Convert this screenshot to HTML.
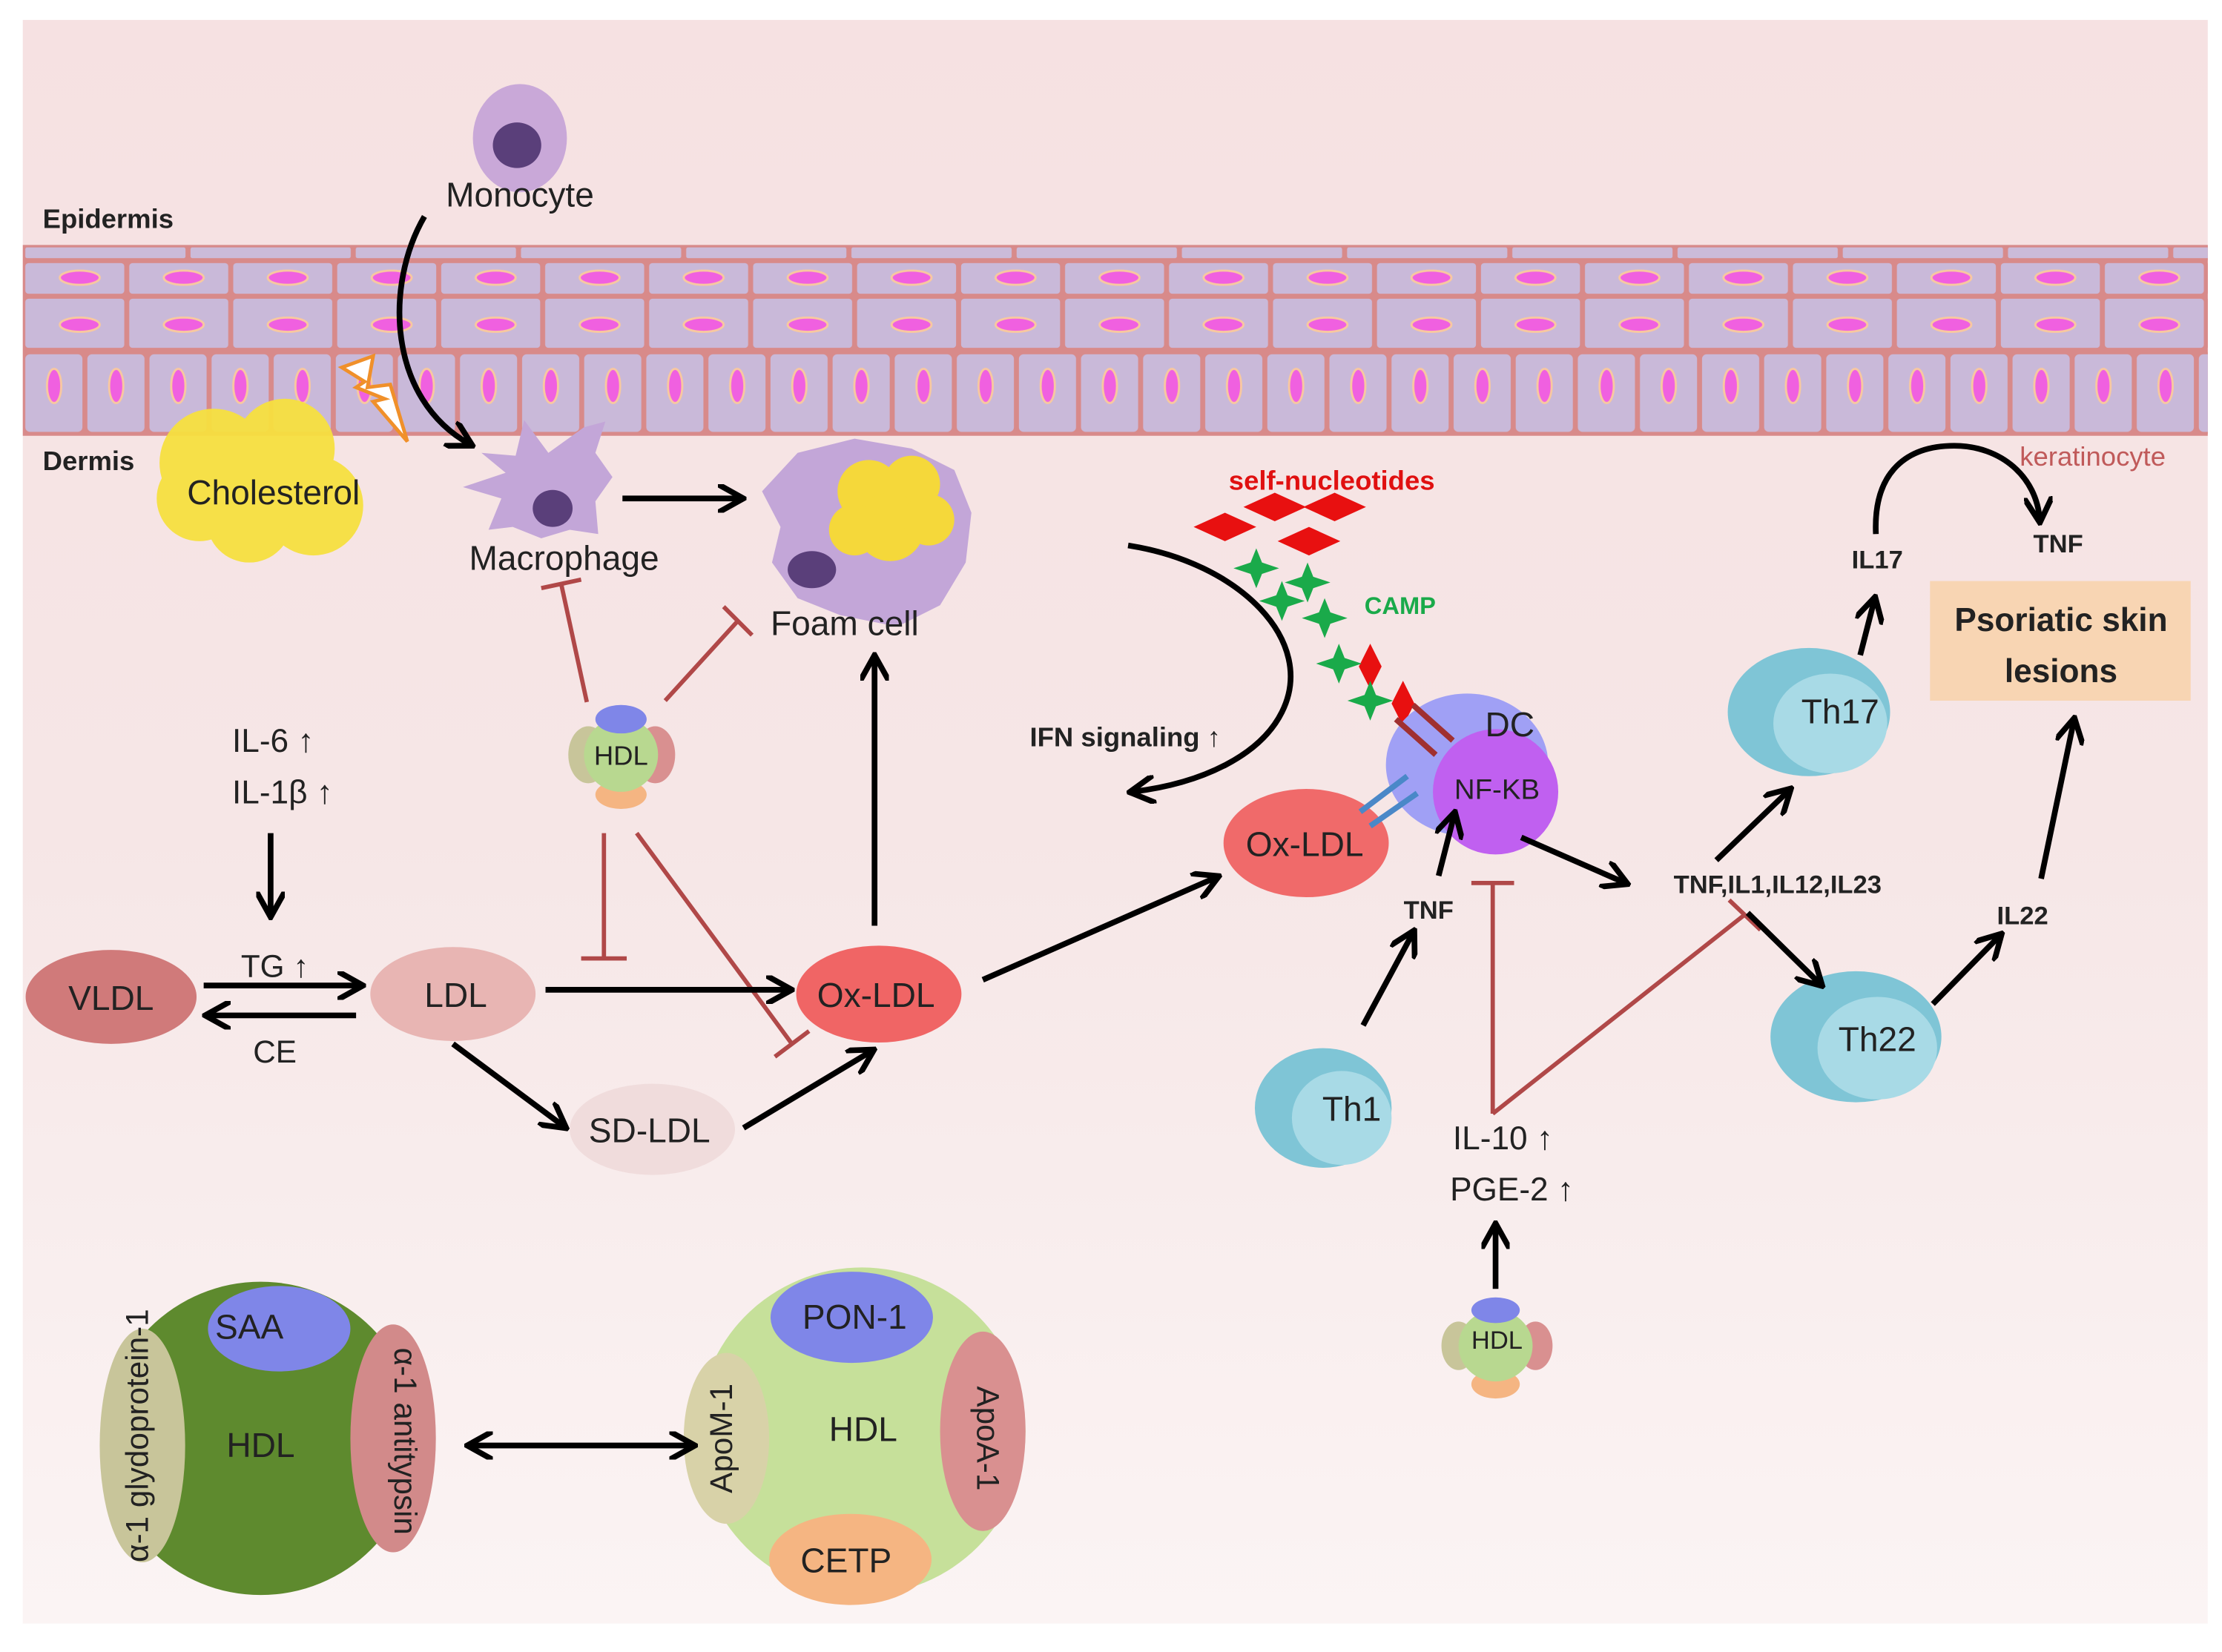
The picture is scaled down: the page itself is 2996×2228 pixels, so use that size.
<!DOCTYPE html>
<html><head><meta charset="utf-8"><style>
html,body{margin:0;padding:0;background:#fff}
svg{display:block}
text{font-family:"Liberation Sans",sans-serif}
</style></head><body>
<svg width="2996" height="2228" viewBox="0 0 1560 1160" preserveAspectRatio="none" xmlns="http://www.w3.org/2000/svg">
<defs>
<linearGradient id="bg" x1="0" y1="0" x2="0" y2="1">
<stop offset="0" stop-color="#f6e1e2"/><stop offset="0.5" stop-color="#f6e6e6"/><stop offset="1" stop-color="#fbf4f4"/>
</linearGradient>
<pattern id="r0" x="16" y="172" width="116" height="11" patternUnits="userSpaceOnUse">
<rect x="1" y="1" width="114" height="9" rx="2" fill="#cbbbd9" stroke="#d88a8a" stroke-width="1.5"/></pattern>
<pattern id="r1" x="16" y="183" width="73" height="25" patternUnits="userSpaceOnUse">
<rect x="1" y="1" width="71" height="23" rx="3" fill="#c9b9d9" stroke="#d88a8a" stroke-width="1.5"/>
<ellipse cx="40" cy="12" rx="14" ry="5" fill="#f060e0" stroke="#f8c8a0" stroke-width="1.5"/></pattern>
<pattern id="r2" x="16" y="208" width="73" height="38" patternUnits="userSpaceOnUse">
<rect x="1" y="1" width="71" height="36" rx="3" fill="#c9b9d9" stroke="#d88a8a" stroke-width="1.5"/>
<ellipse cx="40" cy="20" rx="14" ry="5" fill="#f060e0" stroke="#f8c8a0" stroke-width="1.5"/></pattern>
<pattern id="r3" x="16" y="247" width="43.6" height="58" patternUnits="userSpaceOnUse">
<rect x="1" y="1" width="41.6" height="56" rx="4" fill="#c9b9d9" stroke="#d88a8a" stroke-width="1.5"/>
<ellipse cx="22" cy="24" rx="5" ry="12" fill="#f060e0" stroke="#f8c8a0" stroke-width="1.5"/></pattern>
<marker id="ah" viewBox="0 0 10 10" refX="8" refY="5" markerWidth="5" markerHeight="5" orient="auto-start-reverse" markerUnits="strokeWidth">
<path d="M0,0 L9,5 L0,10" fill="none" stroke="#000" stroke-width="2"/></marker>
</defs>
<rect x="16" y="14" width="1534" height="1126" fill="url(#bg)"/>
<!-- epidermis -->
<rect x="16" y="172" width="1534" height="134" fill="#d88a8a"/>
<rect x="16" y="172" width="1534" height="11" fill="url(#r0)"/>
<rect x="16" y="183" width="1534" height="25" fill="url(#r1)"/>
<rect x="16" y="208" width="1534" height="38" fill="url(#r2)"/>
<rect x="16" y="247" width="1534" height="58" fill="url(#r3)"/>
<text x="30" y="160" font-size="19" font-weight="bold" fill="#222">Epidermis</text>
<text x="30" y="330" font-size="19" font-weight="bold" fill="#222">Dermis</text>
<text x="1418" y="327" font-size="19" fill="#c05a5a">keratinocyte</text>
<!-- monocyte -->
<ellipse cx="365" cy="97" rx="33" ry="38" fill="#c9a8d8"/>
<ellipse cx="363" cy="102" rx="17" ry="16" fill="#5a3f7a"/>
<text x="365" y="145" font-size="24" text-anchor="middle" fill="#222">Monocyte</text>
<!-- lightning -->
<path d="M240,258 L262,250 L258,272 L274,270 L286,310 L262,282 L270,280 L250,272 L256,268 Z" fill="#fff" stroke="#f0902a" stroke-width="2.5"/>
<!-- cholesterol -->
<g fill="#f7e040" opacity="0.95">
<circle cx="150" cy="325" r="38"/><circle cx="200" cy="315" r="35"/><circle cx="220" cy="355" r="35"/><circle cx="175" cy="365" r="30"/><circle cx="140" cy="350" r="30"/><circle cx="185" cy="340" r="35"/></g>
<text x="192" y="354" font-size="24" text-anchor="middle" fill="#222">Cholesterol</text>
<!-- macrophage -->
<path d="M338,318 L362,320 L368,295 L385,318 L410,300 L425,296 L418,318 L430,335 L418,352 L420,375 L400,372 L380,378 L360,370 L343,372 L352,350 L325,342 L355,332 Z" fill="#c3a6d8"/>
<ellipse cx="388" cy="357" rx="14" ry="13" fill="#5a3f7a"/>
<text x="396" y="400" font-size="24" text-anchor="middle" fill="#222">Macrophage</text>
<!-- foam cell -->
<path d="M560,318 L600,308 L640,315 L670,330 L682,360 L678,395 L660,425 L630,440 L590,432 L560,420 L542,395 L548,370 L535,345 Z" fill="#c3a6d8"/>
<g fill="#f5d83a"><circle cx="610" cy="345" r="22"/><circle cx="640" cy="340" r="20"/><circle cx="625" cy="370" r="24"/><circle cx="652" cy="365" r="18"/><circle cx="600" cy="372" r="18"/></g>
<ellipse cx="570" cy="400" rx="17" ry="13" fill="#5a3f7a"/>
<text x="593" y="446" font-size="24" text-anchor="middle" fill="#222">Foam cell</text>
<!-- HDL small 1 -->
<g>
<ellipse cx="413" cy="530" rx="14" ry="20" fill="#c8c59a"/><ellipse cx="460" cy="530" rx="14" ry="20" fill="#d99090"/>
<ellipse cx="436" cy="558" rx="18" ry="10" fill="#f5b582"/><ellipse cx="436" cy="530" rx="26" ry="26" fill="#b8d890"/>
<ellipse cx="436" cy="505" rx="18" ry="10" fill="#7f86e8"/>
<text x="436" y="537" font-size="19" text-anchor="middle" fill="#222">HDL</text></g>
<!-- inhibit lines -->
<g stroke="#b04848" stroke-width="3" fill="none">
<line x1="412" y1="493" x2="394" y2="410"/><line x1="380" y1="413" x2="408" y2="407"/>
<line x1="467" y1="492" x2="518" y2="436"/><line x1="508" y1="426" x2="528" y2="446"/>
<line x1="424" y1="585" x2="424" y2="673"/><line x1="408" y1="673" x2="440" y2="673"/>
<line x1="447" y1="585" x2="556" y2="733"/><line x1="544" y1="742" x2="568" y2="724"/>
<line x1="1048" y1="782" x2="1048" y2="620"/><line x1="1033" y1="620" x2="1063" y2="620"/>
<line x1="1048" y1="782" x2="1224" y2="643"/><line x1="1214" y1="632" x2="1236" y2="653"/>
</g>
<!-- IL-6 -->
<text x="163" y="528" font-size="23" fill="#222">IL-6 ↑</text>
<text x="163" y="564" font-size="23" fill="#222">IL-1β ↑</text>
<!-- lipoproteins -->
<ellipse cx="78" cy="700" rx="60" ry="33" fill="#d07a7a"/><text x="78" y="709" font-size="24" text-anchor="middle" fill="#222">VLDL</text>
<ellipse cx="318" cy="698" rx="58" ry="33" fill="#e8b5b3"/><text x="320" y="707" font-size="24" text-anchor="middle" fill="#222">LDL</text>
<ellipse cx="458" cy="793" rx="58" ry="32" fill="#f0dcdc"/><text x="456" y="802" font-size="24" text-anchor="middle" fill="#222">SD-LDL</text>
<ellipse cx="617" cy="698" rx="58" ry="34" fill="#f06565"/><text x="615" y="707" font-size="24" text-anchor="middle" fill="#222">Ox-LDL</text>
<text x="193" y="686" font-size="22" text-anchor="middle" fill="#222">TG ↑</text>
<text x="193" y="746" font-size="22" text-anchor="middle" fill="#222">CE</text>
<text x="790" y="524" font-size="19" font-weight="bold" fill="#222" text-anchor="middle">IFN signaling ↑</text>
<!-- self nucleotides -->
<text x="935" y="344" font-size="19" font-weight="bold" fill="#e01010" text-anchor="middle">self-nucleotides</text>
<g fill="#e81010">
<path d="M838,370 L860,360 L882,370 L860,380 Z"/><path d="M873,356 L895,346 L917,356 L895,366 Z"/>
<path d="M915,356 L937,346 L959,356 L937,366 Z"/><path d="M897,380 L919,370 L941,380 L919,390 Z"/>
<path d="M962,452 L970,468 L962,484 L954,468 Z"/><path d="M985,478 L993,494 L985,510 L977,494 Z"/></g>
<g fill="#1aaa4a">
<path d="M882,385 L886,395 L898,399 L886,403 L882,413 L878,403 L866,399 L878,395 Z"/>
<path d="M918,395 L922,405 L934,409 L922,413 L918,423 L914,413 L902,409 L914,405 Z"/>
<path d="M930,420 L934,430 L946,434 L934,438 L930,448 L926,438 L914,434 L926,430 Z"/>
<path d="M900,408 L904,418 L916,422 L904,426 L900,436 L896,426 L884,422 L896,418 Z"/>
<path d="M940,452 L944,462 L956,466 L944,470 L940,480 L936,470 L924,466 L936,462 Z"/>
<path d="M962,478 L966,488 L978,492 L966,496 L962,506 L958,496 L946,492 L958,488 Z"/></g>
<text x="983" y="431" font-size="17" font-weight="bold" fill="#1aaa4a" text-anchor="middle">CAMP</text>
<!-- DC -->
<ellipse cx="1030" cy="537" rx="57" ry="50" fill="#a0a0f5"/>
<circle cx="1050" cy="556" r="44" fill="#c060f0"/>
<text x="1060" y="517" font-size="24" text-anchor="middle" fill="#222">DC</text>
<text x="1051" y="561" font-size="20" text-anchor="middle" fill="#222">NF-KB</text>
<g stroke="#a03030" stroke-width="4"><line x1="980" y1="505" x2="1008" y2="530"/><line x1="992" y1="495" x2="1020" y2="520"/></g>
<ellipse cx="917" cy="592" rx="58" ry="38" fill="#f06a6a"/>
<text x="916" y="601" font-size="24" text-anchor="middle" fill="#222">Ox-LDL</text>
<g stroke="#4a88c8" stroke-width="4"><line x1="955" y1="570" x2="988" y2="545"/><line x1="962" y1="580" x2="995" y2="557"/></g>
<text x="1003" y="645" font-size="18" font-weight="bold" text-anchor="middle" fill="#222">TNF</text>
<!-- Th cells -->
<g><ellipse cx="929" cy="778" rx="48" ry="42" fill="#7fc5d6"/><ellipse cx="942" cy="785" rx="35" ry="33" fill="#a8dae6"/><text x="949" y="787" font-size="24" text-anchor="middle" fill="#222">Th1</text></g>
<g><ellipse cx="1270" cy="500" rx="57" ry="45" fill="#7fc5d6"/><ellipse cx="1285" cy="508" rx="40" ry="35" fill="#a8dae6"/><text x="1292" y="508" font-size="24" text-anchor="middle" fill="#222">Th17</text></g>
<g><ellipse cx="1303" cy="728" rx="60" ry="46" fill="#7fc5d6"/><ellipse cx="1318" cy="736" rx="42" ry="36" fill="#a8dae6"/><text x="1318" y="738" font-size="24" text-anchor="middle" fill="#222">Th22</text></g>
<text x="1248" y="627" font-size="18" font-weight="bold" text-anchor="middle" fill="#222">TNF,IL1,IL12,IL23</text>
<text x="1318" y="399" font-size="18" font-weight="bold" text-anchor="middle" fill="#222">IL17</text>
<text x="1445" y="388" font-size="18" font-weight="bold" text-anchor="middle" fill="#222">TNF</text>
<text x="1420" y="649" font-size="18" font-weight="bold" text-anchor="middle" fill="#222">IL22</text>
<rect x="1355" y="408" width="183" height="84" fill="#f8d5b3"/>
<text x="1447" y="443" font-size="23" font-weight="bold" text-anchor="middle" fill="#222">Psoriatic skin</text>
<text x="1447" y="479" font-size="23" font-weight="bold" text-anchor="middle" fill="#222">lesions</text>
<text x="1020" y="807" font-size="23" fill="#222">IL-10 ↑</text>
<text x="1018" y="843" font-size="23" fill="#222">PGE-2 ↑</text>
<!-- HDL small 2 -->
<g>
<ellipse cx="1024" cy="945" rx="12" ry="17" fill="#c8c59a"/><ellipse cx="1078" cy="945" rx="12" ry="17" fill="#d99090"/>
<ellipse cx="1050" cy="972" rx="17" ry="10" fill="#f5b582"/><ellipse cx="1050" cy="945" rx="26" ry="25" fill="#b8d890"/>
<ellipse cx="1050" cy="920" rx="17" ry="9" fill="#7f86e8"/>
<text x="1051" y="947" font-size="18" text-anchor="middle" fill="#222">HDL</text></g>
<!-- big HDLs -->
<circle cx="183" cy="1010" r="110" fill="#5e8a2e"/>
<ellipse cx="100" cy="1015" rx="30" ry="82" fill="#c8c59a"/>
<ellipse cx="276" cy="1010" rx="30" ry="80" fill="#d28a8a"/>
<ellipse cx="196" cy="933" rx="50" ry="30" fill="#7f86e8"/>
<text x="175" y="940" font-size="24" text-anchor="middle" fill="#222">SAA</text>
<text x="183" y="1023" font-size="24" text-anchor="middle" fill="#222">HDL</text>
<text transform="translate(104,1008) rotate(-90)" font-size="22" text-anchor="middle" fill="#222">α-1 glydoprotein-1</text>
<text transform="translate(277,1012) rotate(90)" font-size="22" text-anchor="middle" fill="#222">α-1 antitypsin</text>
<circle cx="605" cy="1005" r="115" fill="#c6e09a"/>
<ellipse cx="510" cy="1010" rx="30" ry="60" fill="#d8d2a8"/>
<ellipse cx="690" cy="1005" rx="30" ry="70" fill="#d99090"/>
<ellipse cx="598" cy="925" rx="57" ry="32" fill="#7f86e8"/>
<ellipse cx="597" cy="1095" rx="57" ry="32" fill="#f5b582"/>
<text x="600" y="933" font-size="24" text-anchor="middle" fill="#222">PON-1</text>
<text x="606" y="1012" font-size="24" text-anchor="middle" fill="#222">HDL</text>
<text x="594" y="1104" font-size="24" text-anchor="middle" fill="#222">CETP</text>
<text transform="translate(514,1010) rotate(-90)" font-size="22" text-anchor="middle" fill="#222">ApoM-1</text>
<text transform="translate(686,1010) rotate(90)" font-size="22" text-anchor="middle" fill="#222">ApoA-1</text>
<!-- all black arrows on top -->
<g stroke="#000" stroke-width="4" fill="none" marker-end="url(#ah)">
<path d="M298,152 C270,200 272,280 330,312"/>
<line x1="437" y1="350" x2="520" y2="350"/>
<line x1="190" y1="585" x2="190" y2="642"/>
<line x1="143" y1="692" x2="253" y2="692"/><line x1="250" y1="713" x2="146" y2="713"/>
<line x1="383" y1="695" x2="554" y2="695"/><line x1="318" y1="733" x2="396" y2="791"/>
<line x1="522" y1="792" x2="612" y2="738"/><line x1="614" y1="650" x2="614" y2="462"/>
<line x1="690" y1="688" x2="854" y2="616"/>
<path d="M792,383 C870,395 925,450 900,500 C885,530 845,550 795,556"/>
<line x1="957" y1="720" x2="992" y2="655"/><line x1="1010" y1="615" x2="1021" y2="572"/>
<line x1="1068" y1="588" x2="1141" y2="620"/>
<line x1="1205" y1="604" x2="1256" y2="555"/><line x1="1306" y1="460" x2="1316" y2="421"/>
<path d="M1317,375 C1315,330 1340,313 1372,313 C1405,313 1430,335 1432,365"/>
<line x1="1227" y1="641" x2="1278" y2="691"/><line x1="1357" y1="705" x2="1404" y2="657"/>
<line x1="1433" y1="617" x2="1456" y2="506"/>
<line x1="1050" y1="905" x2="1050" y2="861"/>
<line x1="330" y1="1015" x2="486" y2="1015" marker-start="url(#ah)"/>
</g>
</svg>
</body></html>
